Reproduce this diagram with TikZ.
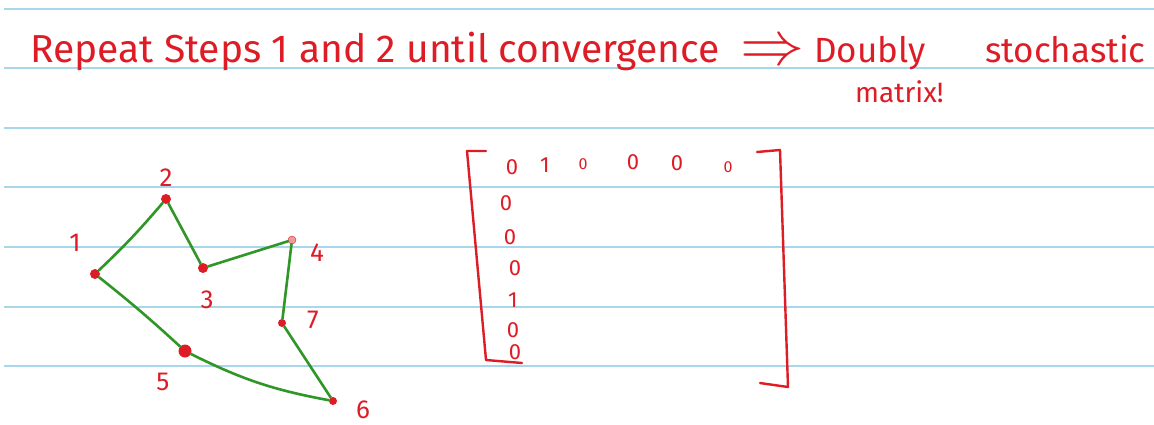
\documentclass[tikz,border=0pt]{standalone}
\usepackage{fontspec}
\setmainfont{Fira Sans}
\definecolor{inkred}{RGB}{222,28,38}
\definecolor{inkgreen}{RGB}{48,150,40}
\definecolor{ruleblue}{RGB}{168,214,234}
\usetikzlibrary{positioning}

\begin{document}
\begin{tikzpicture}[x=1pt, y=-1pt, every node/.style={text=inkred, inner sep=0pt},
    vtx/.style={circle, fill=inkred, minimum size=10pt},
    numlbl/.style={font=\fontsize{26}{28}\selectfont},
    ent/.style={font=\fontsize{22}{24}\selectfont},
    head/.style={anchor=base west, font=\fontsize{39}{40}\selectfont},
    edge/.style={inkgreen, line width=2.6pt, line cap=round, line join=round},
    brack/.style={inkred, line width=2.4pt, line cap=round, line join=round}]
  \useasboundingbox (0,0) rectangle (1154,424);
  \fill[white] (0,0) rectangle (1154,424);
  % ruled paper
  \foreach \y in {9,68,128,187,247,307,366} { \draw[ruleblue, line width=2pt] (4,\y) -- (1154,\y); }
  % heading
  \node[head] (repeat) at (30,62) {Repeat Steps 1 and 2 until convergence};
  \node (impl) at (772,53) {\scalebox{6.4}[6.2]{$\Rightarrow$}};
  \node[head, font=\fontsize{35}{40}\selectfont] (doubly) at (814,62) {Doubly};
  \node[head, font=\fontsize{35}{40}\selectfont] (stoch) at (985,62) {stochastic};
  \node[head, font=\fontsize{28}{30}\selectfont] (mtx) at (855,102) {matrix!};
  % graph
  \node[vtx] (v1) at (95,274) {};
  \node[vtx] (v2) at (166,199) {};
  \node[vtx] (v3) at (203,268) {};
  \node[vtx, minimum size=8pt, draw=inkred, fill=inkred!45] (v4) at (292,240) {};
  \node[vtx, minimum size=13pt] (v5) at (185,351) {};
  \node[vtx, minimum size=8pt] (v6) at (333,401) {};
  \node[vtx, minimum size=8pt] (v7) at (282,323) {};
  \draw[edge] (v1) to[bend right=3] (v2);
  \draw[edge] (v2) -- (v3) -- (v4) -- (v7) -- (v6);
  \draw[edge] (v6) to[bend left=8] (v5);
  \draw[edge] (v5) to[bend right=2] (v1);
  \node[numlbl] (l1) at (75,243) {1};
  \node[numlbl] (l2) at (166,178) {2};
  \node[numlbl] (l3) at (207,300) {3};
  \node[numlbl] (l4) at (317,253) {4};
  \node[numlbl] (l5) at (163,382) {5};
  \node[numlbl] (l6) at (363,410) {6};
  \node[numlbl] (l7) at (313,320) {7};
  % matrix
  \draw[brack] (486,151) -- (467,151) -- (486,360) -- (522,363);
  \draw[brack] (757,152) -- (780,150) -- (788,387) -- (760,383);
  \node[ent] (m11) at (512,167) {0};
  \node[ent] (m12) at (545,165) {1};
  \node[ent, font=\fontsize{16}{18}\selectfont] (m13) at (583,164) {0};
  \node[ent] (m14) at (633,162) {0};
  \node[ent] (m15) at (677,163) {0};
  \node[ent, font=\fontsize{16}{18}\selectfont] (m16) at (728,167) {0};
  \node[ent] (m21) at (506,203) {0};
  \node[ent] (m31) at (510,237) {0};
  \node[ent] (m41) at (515,268) {0};
  \node[ent] (m51) at (513,300) {1};
  \node[ent] (m61) at (513,330) {0};
  \node[ent] (m71) at (515,352) {0};
\end{tikzpicture}
\end{document}
